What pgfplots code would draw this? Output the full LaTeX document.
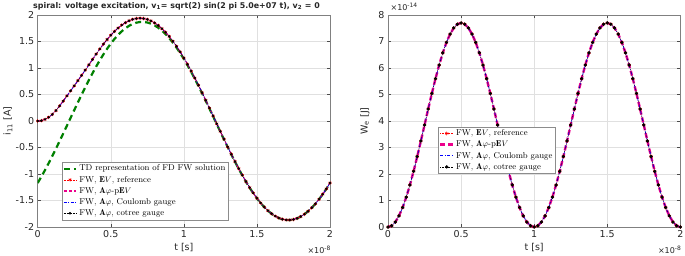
\documentclass[border=0pt]{standalone}
\usepackage{fontspec}
\usepackage{pgfplots}
\usepackage{pgfplotstable}
\pgfplotsset{compat=1.18}
\setsansfont{DejaVu Sans}
\definecolor{mgreen}{rgb}{0,0.5,0}
\definecolor{axgray}{rgb}{0.5,0.5,0.5}

\pgfplotstableread{
t fw td
0 0 -1.1692
0.025 0.0066 -1.0511
0.05 0.0306 -0.9265
0.075 0.0698 -0.7962
0.1 0.125 -0.6610
0.125 0.197 -0.5217
0.15 0.285 -0.3792
0.175 0.378 -0.2344
0.2 0.473 -0.0881
0.225 0.568 0.0587
0.25 0.665 0.2052
0.275 0.762 0.3504
0.3 0.860 0.4934
0.325 0.960 0.6334
0.35 1.0600 0.7695
0.375 1.1617 0.9009
0.4 1.2627 1.0267
0.425 1.3597 1.1461
0.45 1.4517 1.2585
0.475 1.5381 1.3632
0.5 1.6176 1.4594
0.525 1.6898 1.5466
0.55 1.7538 1.6243
0.575 1.8092 1.6920
0.6 1.8553 1.7493
0.625 1.8917 1.7957
0.65 1.9180 1.8311
0.675 1.9338 1.8552
0.7 1.9390 1.8679
0.725 1.9334 1.8691
0.75 1.9169 1.8587
0.775 1.8895 1.8369
0.8 1.8514 1.8037
0.825 1.8025 1.7594
0.85 1.7433 1.7043
0.875 1.6740 1.6387
0.9 1.5949 1.5630
0.925 1.5065 1.4776
0.95 1.4093 1.3831
0.975 1.3038 1.2801
1.0 1.1906 1.1692
1.025 1.0705 1.0511
1.05 0.9440 0.9265
1.075 0.8120 0.7962
1.1 0.6753 0.6610
1.125 0.5347 0.5217
1.15 0.3910 0.3792
1.175 0.2450 0.2344
1.2 0.0977 0.0881
1.225 -0.0500 -0.0587
1.25 -0.1973 -0.2052
1.275 -0.3433 -0.3504
1.3 -0.4869 -0.4934
1.325 -0.6276 -0.6334
1.35 -0.7642 -0.7695
1.375 -0.8961 -0.9009
1.4 -1.0224 -1.0267
1.425 -1.1422 -1.1461
1.45 -1.2550 -1.2585
1.475 -1.3600 -1.3632
1.5 -1.4565 -1.4594
1.525 -1.5440 -1.5466
1.55 -1.6219 -1.6243
1.575 -1.6899 -1.6920
1.6 -1.7474 -1.7493
1.625 -1.7940 -1.7957
1.65 -1.8295 -1.8311
1.675 -1.8538 -1.8552
1.7 -1.8666 -1.8679
1.725 -1.8679 -1.8691
1.75 -1.8576 -1.8587
1.775 -1.8359 -1.8369
1.8 -1.8028 -1.8037
1.825 -1.7586 -1.7594
1.85 -1.7036 -1.7043
1.875 -1.6381 -1.6387
1.9 -1.5624 -1.5630
1.925 -1.4771 -1.4776
1.95 -1.3826 -1.3831
1.975 -1.2797 -1.2801
2.0 -1.1688 -1.1692
}\currentdata

\pgfplotstableread{
t w
0 0
0.025 0.0474
0.05 0.1884
0.075 0.4196
0.1 0.7353
0.125 1.1276
0.15 1.5870
0.175 2.1021
0.2 2.6603
0.225 3.2477
0.25 3.85
0.275 4.4523
0.3 5.0397
0.325 5.5979
0.35 6.1130
0.375 6.5724
0.4 6.9647
0.425 7.2804
0.45 7.5116
0.475 7.6526
0.5 7.7
0.525 7.6526
0.55 7.5116
0.575 7.2804
0.6 6.9647
0.625 6.5724
0.65 6.1130
0.675 5.5979
0.7 5.0397
0.725 4.4523
0.75 3.85
0.775 3.2477
0.8 2.6603
0.825 2.1021
0.85 1.5870
0.875 1.1276
0.9 0.7353
0.925 0.4196
0.95 0.1884
0.975 0.0474
1.0 0
1.025 0.0474
1.05 0.1884
1.075 0.4196
1.1 0.7353
1.125 1.1276
1.15 1.5870
1.175 2.1021
1.2 2.6603
1.225 3.2477
1.25 3.85
1.275 4.4523
1.3 5.0397
1.325 5.5979
1.35 6.1130
1.375 6.5724
1.4 6.9647
1.425 7.2804
1.45 7.5116
1.475 7.6526
1.5 7.7
1.525 7.6526
1.55 7.5116
1.575 7.2804
1.6 6.9647
1.625 6.5724
1.65 6.1130
1.675 5.5979
1.7 5.0397
1.725 4.4523
1.75 3.85
1.775 3.2477
1.8 2.6603
1.825 2.1021
1.85 1.5870
1.875 1.1276
1.9 0.7353
1.925 0.4196
1.95 0.1884
1.975 0.0474
2.0 0
}\energydata

\pgfplotsset{
  matstyle/.style={
    scale only axis,
    width=292.3pt, height=212pt,
    xmin=0, xmax=2,
    scaled ticks=false,
    axis line style={axgray, line width=0.5pt},
    tick style={black!70, line width=0.4pt},
    tick align=inside,
    major tick length=3pt,
    grid=major,
    major grid style={black!12, line width=0.4pt},
    ticklabel style={font=\sffamily\fontsize{9.5}{11}\selectfont, text=black!85},
    label style={font=\sffamily\fontsize{9.5}{11}\selectfont, text=black!85},
    xtick={0,0.5,1,1.5,2},
    xticklabels={0,0.5,1,1.5,2},
    xlabel={t [s]},
    xlabel style={at={(axis description cs:0.5,-0.099)}, anchor=center},
    legend cell align=left,
    legend style={font=\fontsize{8.5}{10.3}\selectfont, draw=black!45, line width=0.4pt,
      inner sep=0.8pt, row sep=-0.3pt, fill=white},
    legend image code/.code={\draw[mark repeat=2,mark phase=2,##1] plot coordinates {(0cm,0cm) (0.22cm,0cm) (0.44cm,0cm)};},
  },
  redser/.style={red, densely dotted, line width=0.5pt, mark=asterisk, mark size=1.8pt, mark options={solid, line width=0.5pt}},
  blueser/.style={blue, line width=0.6pt, dash pattern=on 3pt off 1.5pt on 0.8pt off 1.5pt},
  blackser/.style={black, densely dotted, line width=0.5pt, mark=*, mark size=1.2pt, mark options={solid}},
}

\begin{document}
\begin{tikzpicture}
\useasboundingbox (-37.7pt,-28pt) rectangle (647.3pt,227pt);

\begin{axis}[matstyle, at={(0pt,0pt)}, anchor=south west,
  ymin=-2, ymax=2,
  ytick={-2,-1.5,-1,-0.5,0,0.5,1,1.5,2},
  yticklabels={-2,-1.5,-1,-0.5,0,0.5,1,1.5,2},
  ylabel={i\textsubscript{11} [A]},
  ylabel style={at={(axis description cs:-0.102,0.5)}, anchor=center},
  legend style={at={(0.082,0.033)}, anchor=south west},
]
\addplot[mgreen, line width=2.2pt, dash pattern=on 6pt off 4pt] table[x=t, y=td] {\currentdata};
\addlegendentry{TD representation of FD FW solution}
\addplot[redser] table[x=t, y=fw] {\currentdata};
\addlegendentry{FW, $\mathbf{E}V$, reference}
\addplot[magenta, line width=1.1pt, dash pattern=on 3pt off 2pt] table[x=t, y=fw] {\currentdata};
\addlegendentry{FW, $\mathbf{A}\varphi$-p$\mathbf{E}V$}
\addplot[blueser] table[x=t, y=fw] {\currentdata};
\addlegendentry{FW, $\mathbf{A}\varphi$, Coulomb gauge}
\addplot[blackser, mark size=1pt] table[x=t, y=fw] {\currentdata};
\addlegendentry{FW, $\mathbf{A}\varphi$, cotree gauge}
\end{axis}

\begin{axis}[matstyle, at={(350.3pt,0pt)}, anchor=south west,
  ymin=0, ymax=8,
  ytick={0,1,2,3,4,5,6,7,8},
  yticklabels={0,1,2,3,4,5,6,7,8},
  ylabel={W\textsubscript{e} [J]},
  ylabel style={at={(axis description cs:-0.0785,0.5)}, anchor=center},
  legend style={at={(0.172,0.473)}, anchor=north west},
]
\addplot[redser] table[x=t, y=w] {\energydata};
\addlegendentry{FW, $\mathbf{E}V$, reference}
\addplot[magenta, line width=2.4pt, dash pattern=on 5pt off 3pt] table[x=t, y=w] {\energydata};
\addlegendentry{FW, $\mathbf{A}\varphi$-p$\mathbf{E}V$}
\addplot[blueser] table[x=t, y=w] {\energydata};
\addlegendentry{FW, $\mathbf{A}\varphi$, Coulomb gauge}
\addplot[blackser, mark size=1.4pt] table[x=t, y=w] {\energydata};
\addlegendentry{FW, $\mathbf{A}\varphi$, cotree gauge}
\end{axis}

\node[font=\sffamily\bfseries\fontsize{7.9}{9}\selectfont, text=black!85] at (138.8pt,221pt)
  {spiral: voltage excitation, v\textsubscript{1}= sqrt(2) sin(2 pi 5.0e+07 t), v\textsubscript{2} = 0};
\node[font=\sffamily\fontsize{8}{9}\selectfont, text=black!85] at (281.5pt,-23pt) {×10\textsuperscript{-8}};
\node[font=\sffamily\fontsize{8}{9}\selectfont, text=black!85] at (632pt,-23pt) {×10\textsuperscript{-8}};
\node[font=\sffamily\fontsize{8}{9}\selectfont, text=black!85] at (366.5pt,220.5pt) {×10\textsuperscript{-14}};
\end{tikzpicture}
\end{document}
